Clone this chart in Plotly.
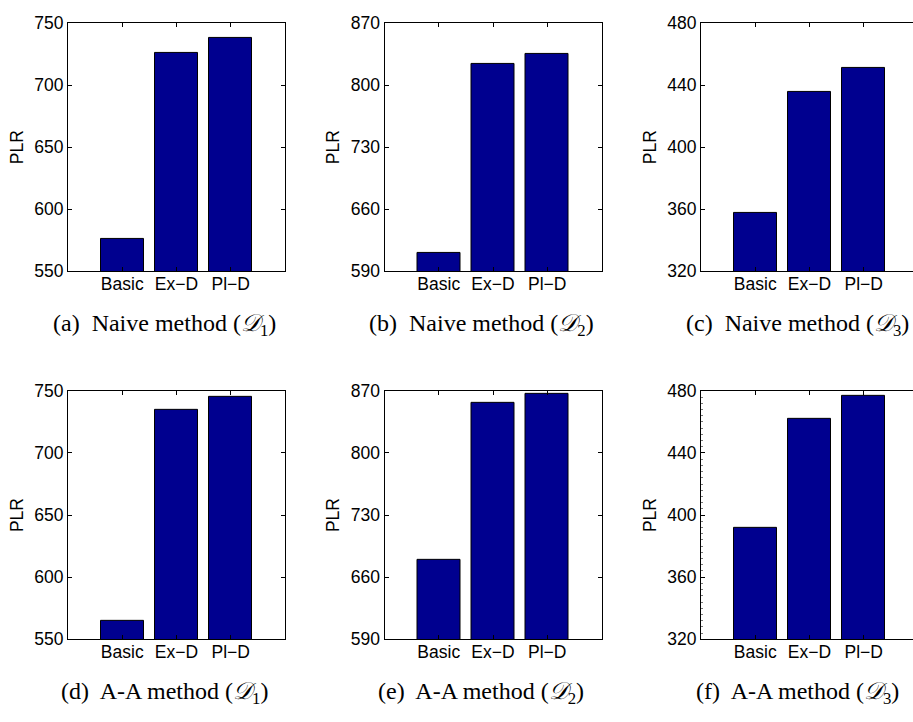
import plotly.graph_objects as go

# Categories and PLR values for each method / dataset
categories = ["Basic", "Ex\u2212D", "Pl\u2212D"]
cat_pos = [1, 2, 3]

naive_d1 = [576, 725.5, 738]
naive_d2 = [610.5, 824, 835]
naive_d3 = [357.5, 435.5, 451]
aa_d1 = [565, 735, 745]
aa_d2 = [679, 856.5, 866.5]
aa_d3 = [392, 462, 477]

y_ranges = [[550, 750], [590, 870], [320, 480]]
y_ticks = [
    [550, 600, 650, 700, 750],
    [590, 660, 730, 800, 870],
    [320, 360, 400, 440, 480],
]

captions = [
    "(a)&nbsp; Naive method (<i>𝒟</i><sub>1</sub>)",
    "(b)&nbsp; Naive method (<i>𝒟</i><sub>2</sub>)",
    "(c)&nbsp; Naive method (<i>𝒟</i><sub>3</sub>)",
    "(d)&nbsp; A-A method (<i>𝒟</i><sub>1</sub>)",
    "(e)&nbsp; A-A method (<i>𝒟</i><sub>2</sub>)",
    "(f)&nbsp; A-A method (<i>𝒟</i><sub>3</sub>)",
]

W, H = 913, 722
BAR_COLOR = "#00008F"
TICK_FONT = dict(family="Liberation Sans, Arial, sans-serif", size=17.5, color="black")
CAPTION_FONT = dict(family="Liberation Serif, Times New Roman, serif", size=24, color="black")

# pixel layout of the axes boxes
col_left = [68, 384.5, 701]
col_width = 217
row_top = [13.3, 391.7]
row_height = 255.5

fig = go.Figure()

series = [naive_d1, naive_d2, naive_d3, aa_d1, aa_d2, aa_d3]

for i, vals in enumerate(series):
    r, c = divmod(i, 3)
    idx = i + 1
    xa = "x" if idx == 1 else f"x{idx}"
    ya = "y" if idx == 1 else f"y{idx}"
    fig.add_trace(go.Bar(
        x=cat_pos, y=vals, width=0.8,
        marker=dict(color=BAR_COLOR, line=dict(color="black", width=1)),
        xaxis=xa, yaxis=ya, showlegend=False,
    ))

    x0 = col_left[c] / W
    x1 = min((col_left[c] + col_width) / W, 1.0)
    x_max = 4.0 * (x1 * W - col_left[c]) / col_width
    y1 = 1 - row_top[r] / H
    y0 = 1 - (row_top[r] + row_height) / H

    last_col = (c == 2)
    xkey = "xaxis" if idx == 1 else f"xaxis{idx}"
    ykey = "yaxis" if idx == 1 else f"yaxis{idx}"
    fig.layout[xkey] = dict(
        domain=[x0, x1], anchor=ya, range=[0, x_max],
        tickvals=cat_pos, ticktext=categories,
        ticks="inside", ticklen=4, tickcolor="black",
        ticklabelstandoff=-3,
        showline=True, linecolor="black", linewidth=1, mirror="ticks",
        showgrid=False, zeroline=False, tickfont=TICK_FONT,
        fixedrange=True,
    )
    yaxis = dict(
        domain=[y0, y1], anchor=xa, range=y_ranges[c],
        tickvals=y_ticks[c],
        ticks="inside", ticklen=4, tickcolor="black",
        showline=True, linecolor="black", linewidth=1,
        mirror=False if last_col else "ticks",
        showgrid=False, zeroline=False, tickfont=TICK_FONT,
        title=dict(text="PLR", font=TICK_FONT, standoff=6),
        fixedrange=True,
    )
    if idx == 6:
        # faint minor ticks along the left axis of the last panel
        yaxis["minor"] = dict(ticks="inside", ticklen=2, tickcolor="#777777",
                              dtick=4, showgrid=False)
    fig.layout[ykey] = yaxis

    # sub-figure caption under each panel
    fig.add_annotation(
        x=(col_left[c] + col_width / 2 - 12) / W,
        y=1 - (row_top[r] + row_height + 55) / H,
        xref="paper", yref="paper", xanchor="center", yanchor="middle",
        text=captions[i], showarrow=False, font=CAPTION_FONT,
    )

fig.update_layout(
    width=W, height=H,
    margin=dict(l=0, r=0, t=0, b=0),
    paper_bgcolor="white", plot_bgcolor="white",
    bargap=0,
)

fig.write_html("out.html")
